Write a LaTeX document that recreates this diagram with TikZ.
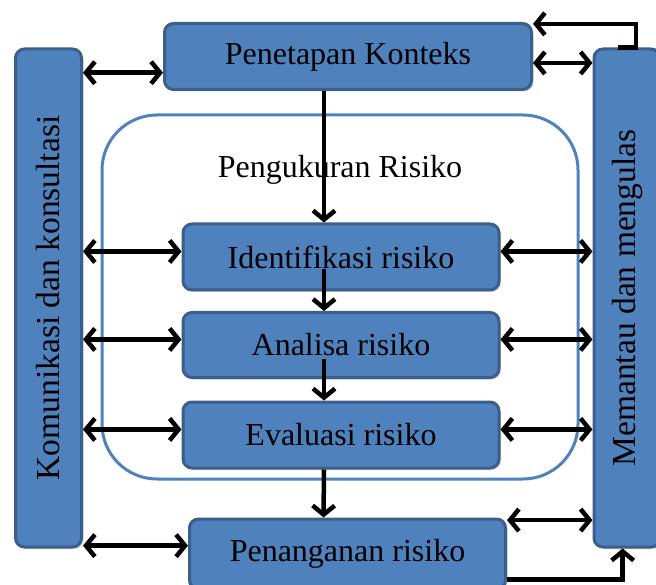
\documentclass[tikz,border=0pt]{standalone}
\usepackage{graphicx}
\usepackage{fontspec}
\setmainfont{Liberation Serif}
\usepackage{tikz}
\definecolor{boxblue}{HTML}{4F81BD}
\definecolor{boxedge}{HTML}{3A5F8D}
\usetikzlibrary{arrows.meta, shadows}

\begin{document}
\begin{tikzpicture}[x=1pt, y=-1pt, font=\fontsize{32}{36}\selectfont,
	box/.style={draw=boxedge, line width=3pt, fill=boxblue, rounded corners=9pt, align=center, inner sep=0pt,
		drop shadow={opacity=0.3, shadow xshift=2pt, shadow yshift=-2pt}},
	sidebox/.style={box, minimum width=66pt, minimum height=498pt, font=\fontsize{33.5}{38}\selectfont},
	dbl/.style={line width=4.5pt, {Straight Barb[length=9pt,width=22pt]}-{Straight Barb[length=9pt,width=22pt]}},
	arr/.style={line width=4.5pt, -{Straight Barb[length=9pt,width=22pt]}}]
	\useasboundingbox (0,0) rectangle (656,585);
	
	\node[sidebox] (kom) at (48.5,298) {\rotatebox{90}{Komunikasi dan konsultasi}};
	\node[sidebox] (mem) at (627,298) {\rotatebox{90}{Memantau dan mengulas}};
	\node[box, minimum width=367pt, minimum height=66pt] (konteks) at (348,56.5) {Penetapan Konteks};
	
	\draw[boxblue, line width=3pt, rounded corners=55pt] (102,115) rectangle (578,479);
	\node (ukur) at (340,170) {Pengukuran Risiko};
	
	\node[box, minimum width=316pt, minimum height=66pt] (ident) at (341,257) {Identifikasi risiko};
	\node[box, minimum width=316pt, minimum height=65pt] (anal) at (341,345) {Analisa risiko};
	\node[box, minimum width=316pt, minimum height=66pt] (eval) at (341,435) {Evaluasi risiko};
	\node[box, minimum width=316pt, minimum height=70pt] (tangan) at (347.5,554) {Penanganan risiko};
	
	\draw[dbl] (kom.east |- konteks.185) -- (konteks.185);
	\draw[dbl] (konteks.-2) -- (mem.west |- konteks.-2);
	\draw[arr] (mem.92) -- (mem.88) |- (konteks.10);
	
	\draw[dbl] (kom.east |- ident.178) -- (ident.178);
	\draw[dbl] (ident.2) -- (mem.west |- ident.2);
	\draw[dbl] (kom.east |- anal.178) -- (anal.178);
	\draw[dbl] (anal.2) -- (mem.west |- anal.2);
	\draw[dbl] (kom.east |- eval.178) -- (eval.178);
	\draw[dbl] (eval.2) -- (mem.west |- eval.2);
	
	\draw[dbl] (kom.east |- tangan.177) -- (tangan.177);
	\draw[dbl] (tangan.12) -- (mem.west |- tangan.12);
	\draw[arr] (tangan.-9) -| (mem.269);
	
	\draw[arr] ([xshift=-24pt]konteks.south) -- ([xshift=-17pt]ident.north);
	\draw[arr] ([xshift=-17pt,yshift=22pt]ident.south) -- ([xshift=-17pt]anal.north);
	\draw[arr] ([xshift=-17pt,yshift=20pt]anal.south) -- ([xshift=-17pt]eval.north);
	\draw[arr] ([xshift=-17pt]eval.south) -- ([xshift=-24pt]tangan.north);
	
\end{tikzpicture}
\end{document}
